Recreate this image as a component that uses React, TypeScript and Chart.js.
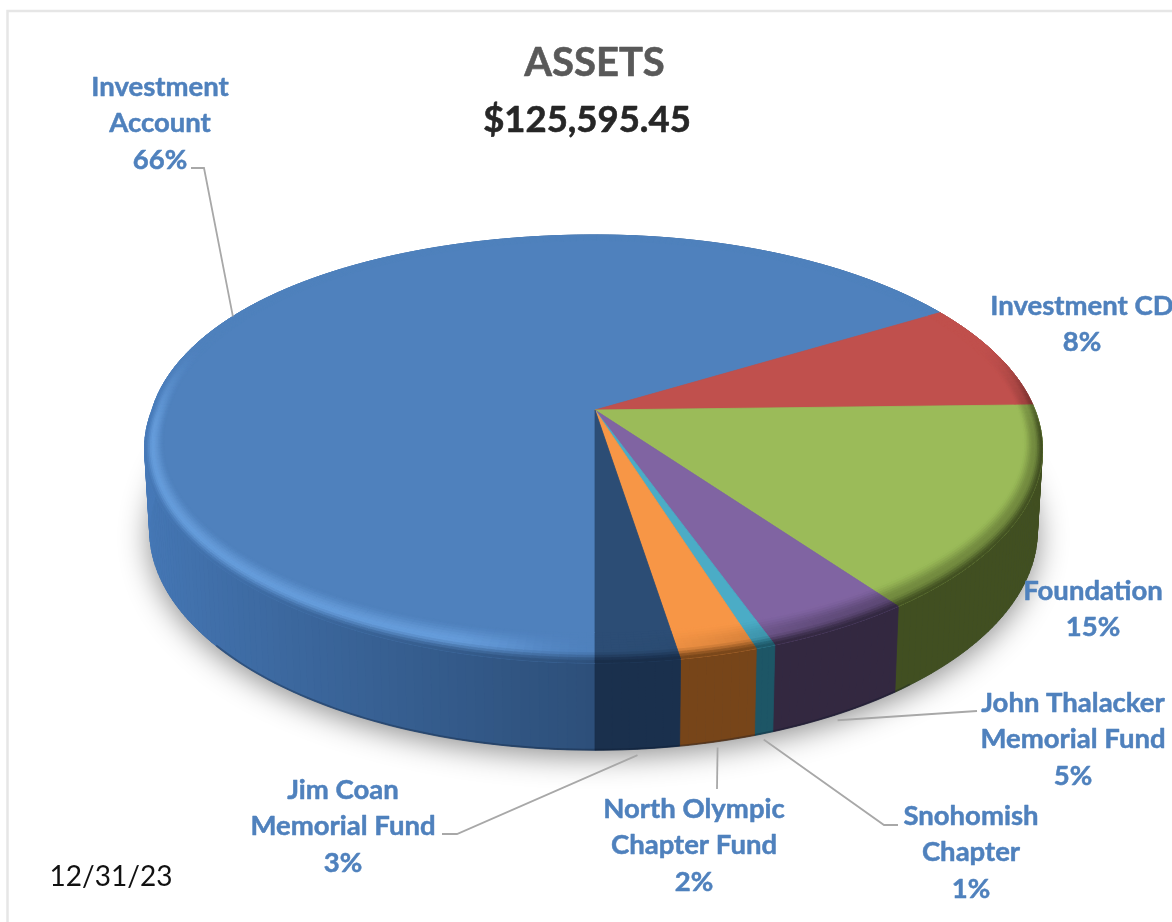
import React, { useEffect, useRef } from "react";
import { Chart, registerables } from "chart.js";

Chart.register(...registerables);

// ---- data ----
const categories = [
  "Investment Account",
  "Investment CD",
  "Foundation",
  "John Thalacker Memorial Fund",
  "Snohomish Chapter",
  "North Olympic Chapter Fund",
  "Jim Coan Memorial Fund",
];
const shares = [66.4, 8.2, 15.4, 4.5, 0.6, 2.35, 2.55];
const percentLabels = ["66%", "8%", "15%", "5%", "1%", "2%", "3%"];
const labelLines = [
  ["Investment", "Account"],
  ["Investment CD"],
  ["Foundation"],
  ["John Thalacker", "Memorial Fund"],
  ["Snohomish", "Chapter"],
  ["North Olympic", "Chapter Fund"],
  ["Jim Coan", "Memorial Fund"],
];
const topColors = ["#4f81bd", "#c0504d", "#9bbb59", "#8064a2", "#4bacc6", "#f79646", "#2c4d75"];
const sideColors = ["#2d4f79", "#5c2524", "#414f21", "#332840", "#1d5666", "#774519", "#182d49"];
const titleText = "ASSETS";
const totalText = "$125,595.45";
const dateText = "12/31/23";

// ---- layout ----
const W = 1172;
const H = 922;
const CX = 595;
const TOP = { cy: 410, A: 206.9, B: 440 };
const BOT = { cy: 491, A: 212, B: 435 };
const PERSP = 0.182;
const LABEL_POS = [
  { x: 160, y: 87 },
  { x: 1082, y: 306 },
  { x: 1093, y: 591 },
  { x: 1073, y: 703 },
  { x: 971, y: 816 },
  { x: 694, y: 809 },
  { x: 343, y: 790 },
];
const LINE_H = 36.5;
const LEADER_GAP = 6;
const LEADER_ELBOWS: (number[][] | null)[] = [
  [[191, 168], [204, 168]],
  null,
  null,
  [[977, 711]],
  [[898, 825], [884, 825]],
  [[717, 789]],
  [[442, 834], [457, 834]],
];

type Disc = typeof TOP;
const proj = (d: Disc, r: number, a: number): [number, number] => {
  const u = r * Math.cos(a);
  const v = r * Math.sin(a);
  const k = 1 - PERSP * v;
  // the reference's disc bulges a little further out on its left-hand side
  const bulge = u < 0 ? u * (3 + 19 * Math.max(0, -v)) : 0;
  return [CX + (d.B * u) / k + bulge, d.cy + (d.A * v) / k];
};
const hex = (c: string) => [1, 3, 5].map((i) => parseInt(c.slice(i, i + 2), 16));
const mix = (a: number[], b: number[], t: number) => a.map((x, i) => x + (b[i] - x) * t);
const css = (c: number[]) => `rgb(${c.map((x) => Math.round(x)).join(",")})`;
const clamp = (x: number, a = 0, b = 1) => Math.max(a, Math.min(b, x));
const smooth = (e0: number, e1: number, x: number) => {
  const t = clamp((x - e0) / (e1 - e0));
  return t * t * (3 - 2 * t);
};
const quad = (ctx: CanvasRenderingContext2D, pts: [number, number][], color: string) => {
  ctx.beginPath();
  pts.forEach((p, i) => (i ? ctx.lineTo(p[0], p[1]) : ctx.moveTo(p[0], p[1])));
  ctx.closePath();
  ctx.fillStyle = color;
  ctx.strokeStyle = color;
  ctx.lineWidth = 0.8;
  ctx.fill();
  ctx.stroke();
};
const STEP = Math.PI / 180;
const angleSteps = (s: number, e: number) => {
  const n = Math.max(1, Math.ceil((e - s) / STEP));
  return Array.from({ length: n + 1 }, (_, i) => s + ((e - s) * i) / n);
};
const rimStart = (v: number) => 1 - (0.04 + 0.06 * Math.max(v, 0) ** 2);

const pie3d = {
  id: "pie3d",
  beforeDatasetsDraw(chart: any) {
    const ctx: CanvasRenderingContext2D = chart.ctx;
    const arcs = chart.getDatasetMeta(0).data.map((el: any) => el.getProps(["startAngle", "endAngle"], true));

    ctx.save();
    // floor shadow
    ctx.save();
    ctx.shadowColor = "rgba(0,0,0,0.45)";
    ctx.shadowBlur = 30;
    ctx.shadowOffsetY = 6;
    ctx.beginPath();
    angleSteps(0, Math.PI * 2).forEach((a, i) => {
      const p = proj(BOT, 1, a);
      i ? ctx.lineTo(p[0], p[1]) : ctx.moveTo(p[0], p[1]);
    });
    ctx.closePath();
    ctx.fillStyle = "#2d4f79";
    ctx.fill();
    ctx.restore();

    // side wall
    arcs.forEach((arc: any, i: number) => {
      const as = angleSteps(arc.startAngle, arc.endAngle);
      for (let k = 0; k < as.length - 1; k++) {
        const a = as[k];
        const b = as[k + 1];
        const u = Math.cos((a + b) / 2);
        let c = hex(sideColors[i]);
        if (i === 0) c = mix(hex("#4679b8"), c, clamp(1 + u));
        if (i === 6) c = mix(c, hex("#1b3250"), 0.5);
        quad(ctx, [proj(TOP, 1, a), proj(TOP, 1, b), proj(BOT, 1, b), proj(BOT, 1, a)], css(c));
      }
    });
    // darker lower edge of the wall, front part only
    ctx.beginPath();
    angleSteps(0.9, Math.PI - 0.7).forEach((a, i) => {
      const p = proj(BOT, 0.999, a);
      i ? ctx.lineTo(p[0], p[1]) : ctx.moveTo(p[0], p[1]);
    });
    ctx.strokeStyle = "rgba(8,18,36,0.28)";
    ctx.lineWidth = 2;
    ctx.stroke();

    // top face
    arcs.forEach((arc: any, i: number) => {
      const pts: [number, number][] = [proj(TOP, 0, 0)];
      angleSteps(arc.startAngle, arc.endAngle).forEach((a) => pts.push(proj(TOP, 1, a)));
      quad(ctx, pts, topColors[i]);
    });

    // bevelled rim
    const RINGS = 12;
    arcs.forEach((arc: any, i: number) => {
      const face = hex(topColors[i]);
      const side = hex(sideColors[i]);
      const as = angleSteps(arc.startAngle, arc.endAngle);
      for (let k = 0; k < as.length - 1; k++) {
        const a = as[k];
        const b = as[k + 1];
        const m = (a + b) / 2;
        const u = Math.cos(m);
        const v = Math.sin(m);
        const w = smooth(-0.35, 0.15, v);
        const L = u < 0 ? 0.28 * smooth(0, 0.3, -u) : -0.45 * smooth(0, 0.6, u);
        const peak = L > 0 ? mix(face, [130, 190, 255], L * 1.6) : mix(face, side, -L);
        const sideNow = i === 0 ? mix(hex("#4679b8"), side, clamp(1 + u)) : side;
        const r0a = rimStart(Math.sin(a));
        const r0b = rimStart(Math.sin(b));
        for (let t = 0; t < RINGS; t++) {
          const t0 = t / RINGS;
          const t1 = (t + 1) / RINGS;
          const tm = (t0 + t1) / 2;
          const raw = tm < 0.6 ? mix(face, peak, smooth(0, 0.6, tm)) : mix(peak, sideNow, smooth(0.6, 1, tm));
          const col = mix(face, raw, w);
          const ra0 = r0a + (1 - r0a) * t0;
          const ra1 = r0a + (1 - r0a) * t1;
          const rb0 = r0b + (1 - r0b) * t0;
          const rb1 = r0b + (1 - r0b) * t1;
          quad(ctx, [proj(TOP, ra0, a), proj(TOP, rb0, b), proj(TOP, rb1, b), proj(TOP, ra1, a)], css(col));
        }
      }
    });
    ctx.restore();
    return false;
  },
  afterDraw(chart: any) {
    const ctx: CanvasRenderingContext2D = chart.ctx;
    const arcs = chart.getDatasetMeta(0).data.map((el: any) => el.getProps(["startAngle", "endAngle"], true));
    ctx.save();

    // frame
    ctx.strokeStyle = "#e6e6e6";
    ctx.lineWidth = 2.5;
    ctx.beginPath();
    ctx.moveTo(7.5, H);
    ctx.lineTo(7.5, 11);
    ctx.lineTo(W, 11);
    ctx.stroke();

    // leader lines
    ctx.strokeStyle = "#a8a8a8";
    ctx.lineWidth = 1.8;
    arcs.forEach((arc: any, i: number) => {
      const el = LEADER_ELBOWS[i];
      if (!el) return;
      const m = (arc.startAngle + arc.endAngle) / 2;
      const p = i === 0 ? proj(TOP, 1, m) : proj(BOT, 1, m);
      const end = i === 0 ? p : [p[0], p[1] + LEADER_GAP];
      ctx.beginPath();
      el.forEach((q, k) => (k ? ctx.lineTo(q[0], q[1]) : ctx.moveTo(q[0], q[1])));
      ctx.lineTo(end[0], end[1]);
      ctx.stroke();
    });

    const drawText = (t: string, x: number, y: number, color: string, weight: number) => {
      ctx.fillStyle = color;
      ctx.fillText(t, x, y);
      if (weight > 0) {
        ctx.strokeStyle = color;
        ctx.lineWidth = weight;
        ctx.lineJoin = "round";
        ctx.strokeText(t, x, y);
      }
    };

    // labels
    ctx.textAlign = "center";
    ctx.textBaseline = "middle";
    ctx.font = "bold 27.5px Lato";
    categories.forEach((_, i) => {
      const lines = [...labelLines[i], percentLabels[i]];
      lines.forEach((t, k) => drawText(t, LABEL_POS[i].x, LABEL_POS[i].y + k * LINE_H, "#4f81bd", 0.5));
    });

    // titles
    ctx.font = "bold 40px Lato";
    drawText(titleText, 594.5, 63, "#595959", 0.6);
    ctx.font = "bold 36.5px Lato";
    drawText(totalText, 587, 120, "#262626", 0.6);
    ctx.font = "28px Lato";
    drawText(dateText, 111, 877, "#111111", 0);
    ctx.restore();
  },
};

export default function App() {
  const ref = useRef<HTMLCanvasElement | null>(null);
  useEffect(() => {
    if (!ref.current) return;
    const chart = new Chart(ref.current, {
      type: "pie",
      data: {
        labels: categories,
        datasets: [{ data: shares, backgroundColor: topColors, borderWidth: 0 }],
      },
      options: {
        responsive: false,
        animation: false,
        rotation: 180,
        plugins: { legend: { display: false }, tooltip: { enabled: false } },
      },
      plugins: [pie3d],
    } as any);
    return () => chart.destroy();
  }, []);
  return (
    <div style={{ position: "fixed", left: 0, top: 0, width: W, height: H, background: "#fff", overflow: "hidden" }}>
      <canvas ref={ref} width={W} height={H} style={{ display: "block", filter: "blur(0.7px)" }} />
    </div>
  );
}
